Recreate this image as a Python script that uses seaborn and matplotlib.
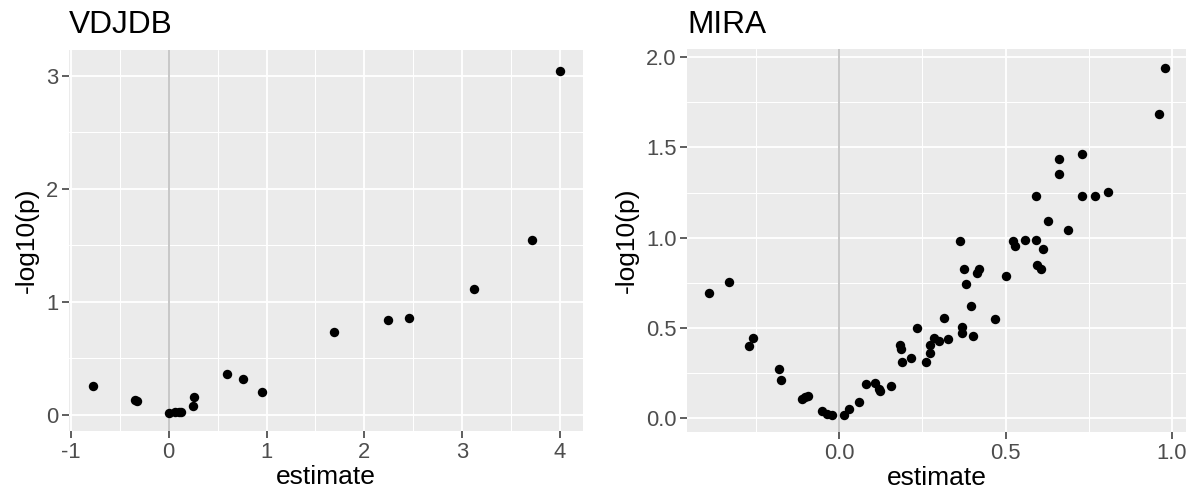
import matplotlib
matplotlib.use("Agg")
import matplotlib.pyplot as plt
import seaborn as sns
import numpy as np
import pandas as pd
from matplotlib.ticker import MultipleLocator, FormatStrFormatter

# ---- data ----
vdjdb_estimate = [-0.774, -0.345, -0.325, 0.0, 0.06, 0.10, 0.125, 0.246, 0.261,
                  0.593, 0.762, 0.949, 1.688, 2.239, 2.462, 3.126, 3.72, 4.0]
vdjdb_logp = [0.256, 0.13, 0.125, 0.015, 0.03, 0.03, 0.03, 0.077, 0.16,
              0.364, 0.317, 0.206, 0.732, 0.844, 0.861, 1.117, 1.546, 3.045]

mira_estimate = [-0.391, -0.330, -0.270, -0.259, -0.181, -0.176, -0.111, -0.103, -0.094,
                 -0.052, -0.037, -0.021, 0.016, 0.031, 0.059, 0.080, 0.109, 0.119, 0.124,
                 0.156, 0.184, 0.185, 0.189, 0.217, 0.234, 0.262, 0.272, 0.272, 0.286,
                 0.299, 0.315, 0.327, 0.364, 0.369, 0.369, 0.374, 0.380, 0.397, 0.403,
                 0.414, 0.421, 0.469, 0.502, 0.523, 0.529, 0.557, 0.590, 0.590, 0.593,
                 0.605, 0.611, 0.627, 0.660, 0.660, 0.687, 0.731, 0.731, 0.770, 0.808,
                 0.961, 0.978]
mira_logp = [0.696, 0.755, 0.403, 0.443, 0.273, 0.212, 0.107, 0.118, 0.124,
             0.041, 0.026, 0.019, 0.019, 0.053, 0.090, 0.192, 0.196, 0.164, 0.152,
             0.181, 0.404, 0.384, 0.312, 0.334, 0.502, 0.312, 0.404, 0.364, 0.445,
             0.427, 0.556, 0.441, 0.981, 0.506, 0.473, 0.829, 0.746, 0.624, 0.454,
             0.805, 0.827, 0.552, 0.788, 0.982, 0.955, 0.990, 0.990, 1.232, 0.848,
             0.829, 0.940, 1.091, 1.433, 1.354, 1.040, 1.463, 1.232, 1.232, 1.252,
             1.684, 1.937]

titles = ["VDJDB", "MIRA"]
x_label = "estimate"
y_label = "-log10(p)"

sns.set_theme(style="darkgrid")
plt.rcParams["font.family"] = ["Liberation Sans", "DejaVu Sans"]
plt.rcParams["axes.unicode_minus"] = False

fig = plt.figure(figsize=(11.9, 4.99), dpi=100)
ax1 = fig.add_axes([69 / 1190, 1 - 430.7 / 499, (582.7 - 69) / 1190, (430.7 - 50) / 499])
ax2 = fig.add_axes([687.3 / 1190, 1 - 431.7 / 499, (1185.7 - 687.3) / 1190, (431.7 - 49.3) / 499])

panels = [
    (ax1, vdjdb_estimate, vdjdb_logp, titles[0], (-1.02, 4.234), (-0.139, 3.227), 1, 1, "%d", "%d"),
    (ax2, mira_estimate, mira_logp, titles[1], (-0.456, 1.041), (-0.074, 2.043), 0.5, 0.5, "%.1f", "%.1f"),
]

for ax, xs, ys, title, xl, yl, xstep, ystep, xfmt, yfmt in panels:
    df = pd.DataFrame({"estimate": xs, "logp": ys})
    ax.set_facecolor("#EBEBEB")
    for s in ax.spines.values():
        s.set_visible(False)
    ax.axvline(0, color="#BEBEBE", lw=1.2, zorder=1)
    sns.scatterplot(data=df, x="estimate", y="logp", ax=ax, color="black",
                    s=46, linewidth=0, zorder=3)
    ax.set_xlim(*xl)
    ax.set_ylim(*yl)
    ax.xaxis.set_major_locator(MultipleLocator(xstep))
    ax.yaxis.set_major_locator(MultipleLocator(ystep))
    ax.xaxis.set_minor_locator(MultipleLocator(xstep / 2))
    ax.yaxis.set_minor_locator(MultipleLocator(ystep / 2))
    ax.xaxis.set_major_formatter(FormatStrFormatter(xfmt))
    ax.yaxis.set_major_formatter(FormatStrFormatter(yfmt))
    ax.grid(which="major", color="white", lw=1.3, zorder=0)
    ax.grid(which="minor", color="white", lw=0.75, zorder=0)
    ax.set_axisbelow(True)
    ax.tick_params(which="major", length=4.8, width=1.1, color="#333333",
                   labelsize=15.8, labelcolor="#4D4D4D", pad=3,
                   bottom=True, left=True)
    ax.tick_params(which="minor", length=0, bottom=False, left=False)
    ax.set_xlabel(x_label, fontsize=19, color="black", labelpad=2)
    ax.set_ylabel(y_label, fontsize=19, color="black", labelpad=5)
    ax.set_title(title, loc="left", fontsize=22.8, color="black", pad=12)

fig.savefig("out.png", dpi=100)
